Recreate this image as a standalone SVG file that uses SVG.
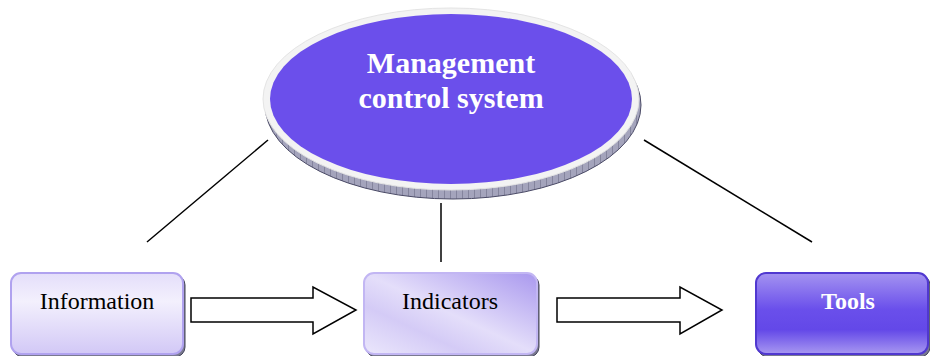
<svg xmlns="http://www.w3.org/2000/svg" width="930" height="356" viewBox="0 0 930 356">
<style>
.lbl{font-family:"Liberation Serif","Times New Roman",serif;font-size:24px;fill:#000;text-anchor:middle}
.blbl{font-family:"Liberation Serif","Times New Roman",serif;font-weight:bold;fill:#fff;text-anchor:middle}
.conn{stroke:#000;stroke-width:1.5;fill:none}
.arrow{fill:#fff;stroke:#000;stroke-width:1.5}
.shadow{fill:#7a7a90;stroke:#44445a;stroke-width:1}
</style>
<defs>
<pattern id="hatch" width="6" height="6" patternUnits="userSpaceOnUse">
<rect width="6" height="6" fill="#a4a4bc"/>
<path d="M0 0L0 6" stroke="#55556e" stroke-width="0.8"/>
</pattern>
<linearGradient id="gInfo" x1="0" y1="0" x2="0" y2="1">
<stop offset="0" stop-color="#e4defa"/>
<stop offset="0.35" stop-color="#f3f0fd"/>
<stop offset="1" stop-color="#d2c8f6"/>
</linearGradient>
<linearGradient id="gInd" x1="1" y1="0" x2="0" y2="1">
<stop offset="0" stop-color="#a998ee"/>
<stop offset="0.5" stop-color="#e4defa"/>
<stop offset="0.7" stop-color="#d4cbf6"/>
<stop offset="1" stop-color="#ebe7fc"/>
</linearGradient>
<linearGradient id="gTools" x1="0" y1="0" x2="0" y2="1">
<stop offset="0" stop-color="#a493f1"/>
<stop offset="0.45" stop-color="#6a4feb"/>
<stop offset="0.7" stop-color="#6348e8"/>
<stop offset="1" stop-color="#a898f1"/>
</linearGradient>
</defs>
<g id="connectors">
<line class="conn" x1="147" y1="242" x2="268" y2="140"/>
<line class="conn" x1="441" y1="203" x2="441" y2="262"/>
<line class="conn" x1="644" y1="140" x2="812" y2="242"/>
<polygon class="arrow" points="191,298 313,298 313,287 356,310 313,334 313,322 191,322"/>
<polygon class="arrow" points="557,298 680,298 680,287 722,310 680,334 680,322 557,322"/>
</g>
<g id="mcs">
<ellipse cx="453" cy="105" rx="188" ry="94" fill="url(#hatch)" stroke="#4a4a66" stroke-width="1"/>
<ellipse cx="451" cy="99" rx="188" ry="91" fill="#f3f3f3" stroke="#e4e4e4" stroke-width="1"/>
<ellipse cx="451" cy="99" rx="181" ry="85" fill="#6b4feb"/>
<text class="blbl" font-size="30" x="451" y="73">Management</text>
<text class="blbl" font-size="30" x="451" y="108">control system</text>
</g>
<g id="information">
<rect class="shadow" x="13" y="275" width="172" height="82" rx="10"/>
<rect x="11" y="273" width="172" height="81" rx="10" fill="url(#gInfo)" stroke="#b0a2ef" stroke-width="2"/>
<text class="lbl" x="97" y="309">Information</text>
</g>
<g id="indicators">
<rect class="shadow" x="366" y="275" width="173" height="82" rx="10"/>
<rect x="364" y="273" width="173" height="81" rx="10" fill="url(#gInd)" stroke="#c2b6f3" stroke-width="2"/>
<text class="lbl" x="450" y="309">Indicators</text>
</g>
<g id="tools">
<rect class="shadow" x="758" y="275" width="172" height="82" rx="10"/>
<rect x="756" y="273" width="172" height="81" rx="10" fill="url(#gTools)" stroke="#5038d0" stroke-width="2"/>
<text class="blbl" font-size="24" x="848" y="309">Tools</text>
</g>
</svg>
